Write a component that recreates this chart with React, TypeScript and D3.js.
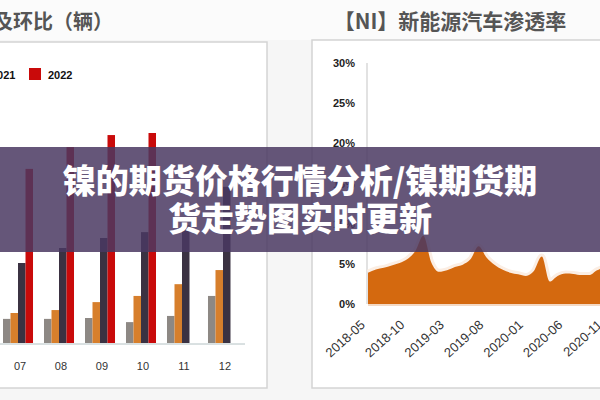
import React from 'react';
import * as d3 from 'd3';

// left chart: monthly NEV sales (辆)
const months = ['07', '08', '09', '10', '11', '12'];
const years = ['2019', '2020', '2021', '2022'];
const sales2019 = [82000, 82000, 85000, 71000, 92000, 160000];
const sales2020 = [102000, 112000, 139000, 160000, 200000, 248000];
const sales2021 = [272000, 323000, 357000, 377000, 400000, 531000];
const sales2022 = [592000, 666000, 707000, 714000, null, null];

// right chart: penetration rate (%)
const rateDates = [
  '2018-05', '2018-06', '2018-07', '2018-08', '2018-09', '2018-10', '2018-11', '2018-12',
  '2019-01', '2019-02', '2019-03', '2019-04', '2019-05', '2019-06', '2019-07', '2019-08',
  '2019-09', '2019-10', '2019-11', '2019-12', '2020-01', '2020-02', '2020-03', '2020-04',
  '2020-05', '2020-06', '2020-07', '2020-08', '2020-09', '2020-10', '2020-11',
];
const rateValues = [
  3.9, 4.3, 4.5, 4.8, 5.1, 5.6, 6.6, 8.5,
  5.2, 4.0, 4.2, 4.6, 4.9, 5.6, 7.2, 5.8,
  4.9, 4.3, 3.9, 3.7, 3.5, 4.1, 5.9, 2.8,
  3.5, 3.8, 3.75, 3.6, 3.6, 4.2, 4.6,
];
const rateTicks = ['2018-05', '2018-10', '2019-03', '2019-08', '2020-01', '2020-06', '2020-11'];
const pctTicks = [0, 5, 10, 15, 20, 25, 30];

const leftTitle = '新能源汽车销量同比及环比（辆）';
const rightTitle = '【NI】新能源汽车渗透率';
const bannerLines = ['镍的期货价格行情分析/镍期货期', '货走势图实时更新'];

const barColors = ['#8d8884', '#d77f2c', '#3b3242', '#c90a0a'];
const cjk = '"Noto Sans CJK SC", "Noto Sans", sans-serif';
const latin = '"Liberation Sans", Arial, sans-serif';

export default function App() {
  const seriesData = [sales2019, sales2020, sales2021, sales2022];

  const x0 = d3.scaleBand<string>().domain(months).range([3, 238]).paddingInner(0.268).paddingOuter(0);
  const x1 = d3.scaleBand<string>().domain(years).range([0, x0.bandwidth()]).padding(0);
  const yL = d3.scaleLinear().domain([0, 800000]).range([343, 343 - 800000 / 3400]);

  const xR = d3.scalePoint<string>().domain(rateDates).range([368, 605]);
  const yR = d3.scaleLinear().domain([0, 30]).range([304, 63]);

  const area = d3.area<number>()
    .x((_, i) => xR(rateDates[i]) as number)
    .y0(yR(0))
    .y1(d => yR(d))
    .curve(d3.curveMonotoneX);
  const line = d3.line<number>()
    .x((_, i) => xR(rateDates[i]) as number)
    .y(d => yR(d))
    .curve(d3.curveMonotoneX);

  const legendStep = 57;

  return (
    <svg width={600} height={400} style={{ position: 'absolute', left: 0, top: 0 }}>
      <rect width={600} height={400} fill="#f6f6f6" />
      <rect x={0} y={0} width={600} height={40} fill="#fbfbfb" />

      {/* left panel */}
      <text x={113} y={29} textAnchor="end" fontFamily={cjk} fontSize={20} fontWeight={700} fill="#555">
        {leftTitle}
      </text>
      <rect x={-10} y={42} width={277} height={346} fill="#fff" stroke="#d4d4d4" strokeWidth={1.5} />
      {years.map((yr, i) => {
        const lx = 29 - (years.length - 1 - i) * legendStep;
        return (
          <g key={yr} transform={`translate(${lx},68)`}>
            <rect width={12} height={12} fill={barColors[i]} />
            <text x={19} y={10.5} fontFamily={latin} fontSize={11} fontWeight={700} fill="#111">{yr}</text>
          </g>
        );
      })}
      {months.map((m, mi) => (
        <g key={m} transform={`translate(${x0(m)},0)`}>
          {years.map((yr, si) => {
            const v = seriesData[si][mi];
            if (v == null) return null;
            return (
              <rect key={yr} x={x1(yr)} y={yL(v)} width={x1.bandwidth()} height={yL(0) - yL(v)} fill={barColors[si]} />
            );
          })}
          <text x={x0.bandwidth() / 2 + 2} y={370} textAnchor="middle" fontFamily={latin} fontSize={11} fill="#333">{m}</text>
        </g>
      ))}
      <line x1={0} x2={245} y1={344} y2={344} stroke="#b4c2c4" strokeWidth={1} />

      {/* right panel */}
      <text x={450} y={29} textAnchor="middle" fontFamily={cjk} fontSize={21} fontWeight={700} fill="#555">
        {rightTitle}
      </text>
      <rect x={312} y={40} width={300} height={348} fill="#fff" stroke="#d4d4d4" strokeWidth={1.5} />
      <line x1={367} x2={367} y1={yR(30)} y2={yR(0)} stroke="#cfcfcf" strokeWidth={1.2} />
      {pctTicks.map(t => (
        <text key={t} x={355} y={yR(t) + 4} textAnchor="end" fontFamily={latin} fontSize={11} fontWeight={700} fill="#222">
          {t}%
        </text>
      ))}
      <path d={line(rateValues) || ''} fill="none" stroke="#fbeee4" strokeWidth={6} strokeLinejoin="round" />
      <path d={area(rateValues) || ''} fill="#d4690f" />
      <line x1={368} x2={600} y1={yR(0) + 1} y2={yR(0) + 1} stroke="#f3d9c4" strokeWidth={2} />
      {rateTicks.map(t => (
        <text
          key={t}
          transform={`translate(${(xR(t) as number) - 2},${yR(0) + 22}) rotate(-42)`}
          textAnchor="end"
          fontFamily={latin}
          fontSize={13}
          fill="#333"
        >
          {t}
        </text>
      ))}

      {/* overlay banner */}
      <rect x={0} y={147} width={600} height={105} fill="rgb(74,56,98)" fillOpacity={0.85} />
      {bannerLines.map((s, i) => (
        <text key={i} x={300} y={193 + i * 38} textAnchor="middle" fontFamily={cjk} fontSize={33} fontWeight={900} fill="#fff">
          {s}
        </text>
      ))}
    </svg>
  );
}
